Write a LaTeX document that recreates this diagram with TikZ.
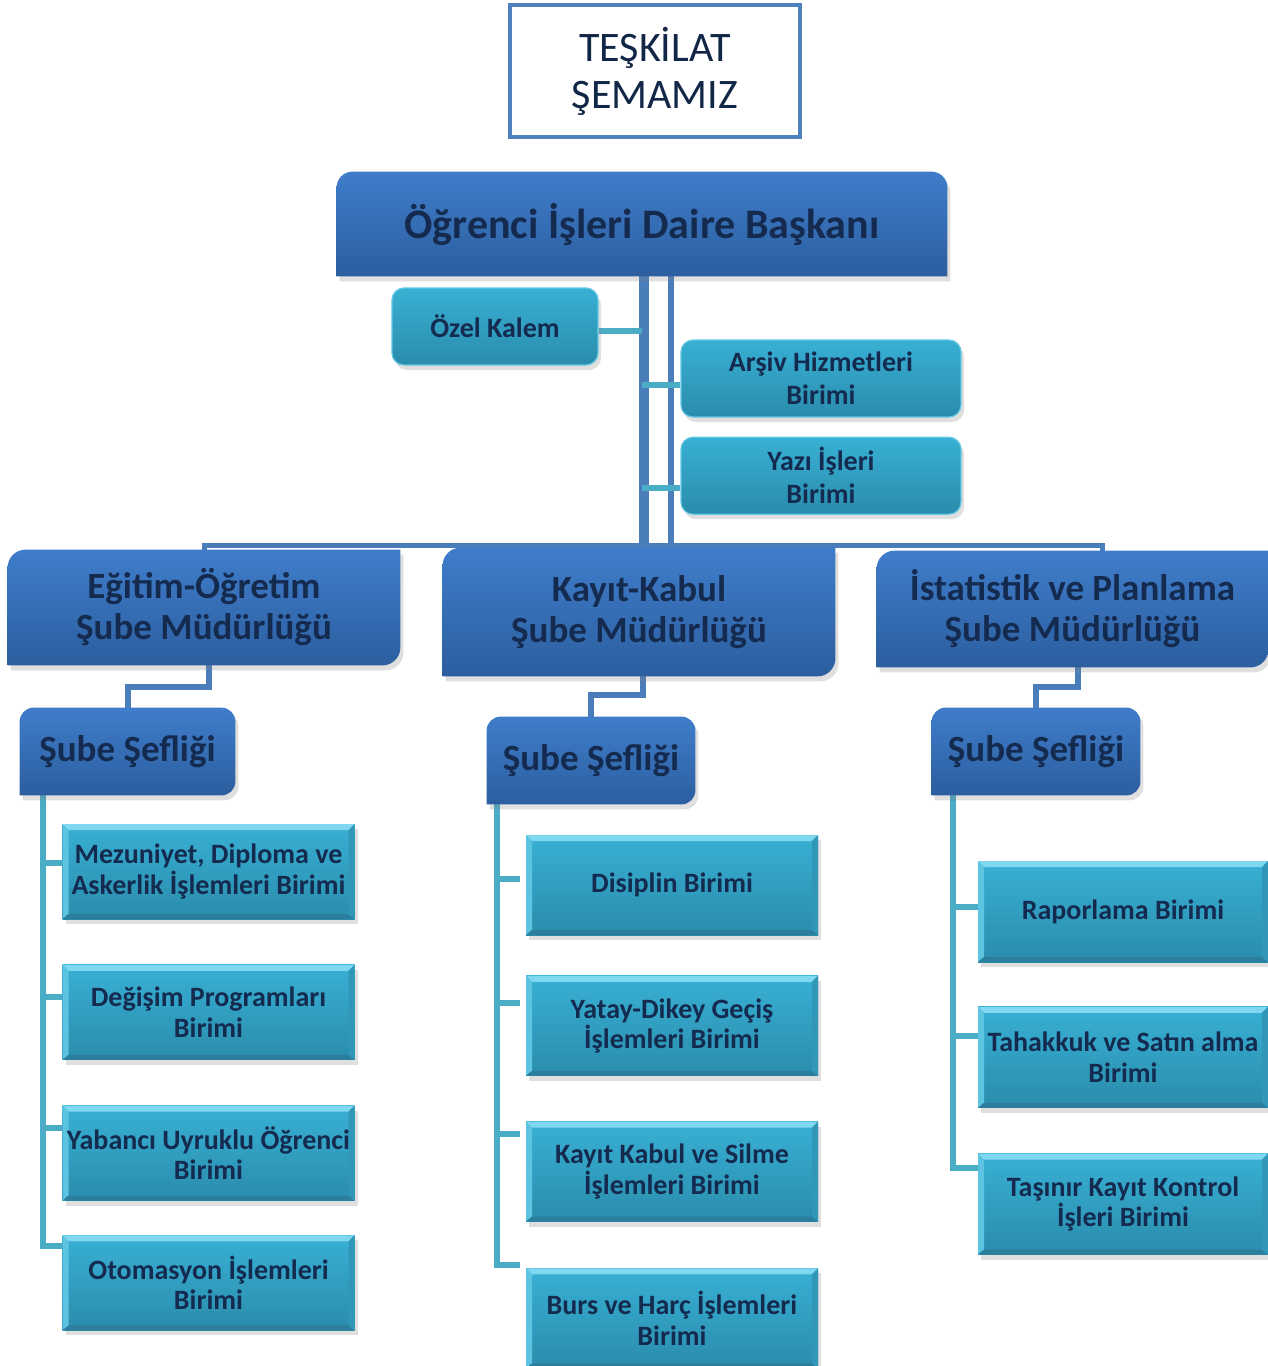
\documentclass[tikz,border=0pt]{standalone}
\usepackage{fontspec}
\setmainfont{Carlito}
\usetikzlibrary{positioning, shadows, backgrounds}

\definecolor{boxblue}{HTML}{3F7DCA}
\definecolor{boxbluedark}{HTML}{2C5E9F}
\definecolor{boxteal}{HTML}{38B0D4}
\definecolor{boxtealdark}{HTML}{2A8CAC}
\definecolor{bevlight}{HTML}{7FD8EF}
\definecolor{bevdark}{HTML}{2B7F9D}
\definecolor{linkblue}{HTML}{4A7EBB}
\definecolor{linkteal}{HTML}{4BACC6}
\definecolor{navytext}{HTML}{142B4F}
\definecolor{framebl}{HTML}{4F81BD}

\tikzset{
  txt/.style={align=center, text=navytext, inner sep=0pt},
  boxshadow/.style={drop shadow={opacity=0.25, shadow xshift=1.5pt, shadow yshift=-2.5pt}},
  blueshade/.style={top color=boxblue, bottom color=boxbluedark, boxshadow},
  titlebox/.style={txt, draw=framebl, line width=2pt, fill=white, minimum width=145pt, minimum height=66pt,
    text=navytext!90!black, font=\fontsize{21}{23.5}\selectfont},
  topbox/.style={txt, minimum width=305pt, minimum height=52pt, font=\fontsize{21}{24}\selectfont\bfseries},
  mud/.style={txt, minimum width=196pt, minimum height=58pt, font=\fontsize{18.5}{20.5}\selectfont\bfseries},
  sef/.style={txt, minimum width=104pt, minimum height=43.5pt, font=\fontsize{18.5}{20.5}\selectfont\bfseries},
  small/.style={txt, minimum width=140pt, minimum height=38.5pt, rounded corners=6pt,
    top color=boxteal, bottom color=boxtealdark, draw=bevlight!60!boxteal, line width=0.6pt, boxshadow,
    font=\fontsize{14}{16.5}\selectfont\bfseries},
  unit/.style={txt, minimum width=146pt, minimum height=50pt, top color=boxteal, bottom color=boxtealdark, boxshadow,
    font=\fontsize{14}{15.2}\selectfont\bfseries,
    path picture={
      \coordinate (bvnw) at (path picture bounding box.north west);
      \coordinate (bvne) at (path picture bounding box.north east);
      \coordinate (bvsw) at (path picture bounding box.south west);
      \coordinate (bvse) at (path picture bounding box.south east);
      \fill[bevlight] (bvnw) -- (bvne) -- ([shift={(-3pt,-3pt)}]bvne) -- ([shift={(3pt,-3pt)}]bvnw) -- cycle;
      \fill[bevlight!50!boxteal] (bvnw) -- ([shift={(3pt,-3pt)}]bvnw) -- ([shift={(3pt,2.5pt)}]bvsw) -- (bvsw) -- cycle;
      \fill[bevdark] (bvsw) -- ([shift={(3pt,2.5pt)}]bvsw) -- ([shift={(-3pt,2.5pt)}]bvse) -- (bvse) -- cycle;
      \fill[bevdark!50!boxteal] (bvne) -- (bvse) -- ([shift={(-3pt,2.5pt)}]bvse) -- ([shift={(-3pt,-3pt)}]bvne) -- cycle;
    }},
  blueline/.style={linkblue, line width=3pt},
  tealline/.style={linkteal, line width=3pt}
}

\begin{document}
\begin{tikzpicture}[x=0.5pt, y=-0.5pt]
  \useasboundingbox (0,0) rectangle (1268,1366);

  \node[titlebox] (teskilat) at (655,71) {TEŞKİLAT\\ŞEMAMIZ};
  \node[topbox] (daire) at (642,224) {Öğrenci İşleri Daire Başkanı};
  \node[small, minimum width=103pt] (ozel) at (495,326.5) {Özel Kalem};
  \node[small] (arsiv) at (821,378.5) {Arşiv Hizmetleri\\Birimi};
  \node[small, below=9.5pt of arsiv] (yazi) {Yazı İşleri\\Birimi};

  \node[mud, minimum height=57.5pt] (egitim) at (204,607.5) {Eğitim-Öğretim\\Şube Müdürlüğü};
  \node[mud, minimum height=64pt] (kayit) at (639,612) {Kayıt-Kabul\\Şube Müdürlüğü};
  \node[mud, minimum width=195.5pt] (istat) at (1072.5,609) {İstatistik ve Planlama\\Şube Müdürlüğü};

  \node[sef, minimum width=107.5pt] (sefL) at (127.5,751.5) {Şube Şefliği};
  \node[sef] (sefM) at (591,760.5) {Şube Şefliği};
  \node[sef] (sefR) at (1036,751.5) {Şube Şefliği};

  %% Egitim-Ogretim
  \node[unit, minimum height=47.5pt] (mezun) at (208.5,871.5) {Mezuniyet, Diploma ve\\Askerlik İşlemleri Birimi};
  \node[unit, minimum height=47.5pt, below=22.5pt of mezun] (degisim) {Değişim Programları\\Birimi};
  \node[unit, minimum height=47.5pt, below=22.5pt of degisim] (yabanci) {Yabancı Uyruklu Öğrenci\\Birimi};
  \node[unit, minimum height=47.5pt, below=17pt of yabanci] (otomasyon) {Otomasyon İşlemleri\\Birimi};

  %% Kayit-Kabul
  \node[unit] (disiplin) at (672,885) {Disiplin Birimi};
  \node[unit, below=20pt of disiplin] (yatay) {Yatay-Dikey Geçiş\\İşlemleri Birimi};
  \node[unit, below=22.5pt of yatay] (silme) {Kayıt Kabul ve Silme\\İşlemleri Birimi};
  \node[unit, below=23pt of silme] (burs) {Burs ve Harç İşlemleri\\Birimi};

  %% Istatistik
  \node[unit, minimum width=145pt, minimum height=50.5pt] (rapor) at (1123,911.5) {Raporlama Birimi};
  \node[unit, minimum width=145pt, minimum height=50.5pt, below=22pt of rapor] (tahakkuk) {Tahakkuk ve Satın alma\\Birimi};
  \node[unit, minimum width=145pt, minimum height=50.5pt, below=22.5pt of tahakkuk] (tasinir) {Taşınır Kayıt Kontrol\\İşleri Birimi};

  \begin{scope}[on background layer]
    % connectors
    \draw[linkblue, line width=5pt] ([xshift=1pt]daire.south) -- ([xshift=1pt]daire.south |- kayit.north);
    \draw[linkblue, line width=3pt] ([xshift=14.5pt]daire.south) -- ([xshift=14.5pt]daire.south |- kayit.north);
    \draw[tealline] ([yshift=-2pt]ozel.east) -- ([yshift=-2pt]ozel.east -| daire.south);
    \draw[tealline] ([yshift=-3pt]arsiv.west) -- ([yshift=-3pt]arsiv.west -| daire.south);
    \draw[tealline] ([yshift=-6pt]yazi.west) -- ([yshift=-6pt]yazi.west -| daire.south);

    \coordinate (bus) at (642,545);
    \draw[linkblue, line width=2.5pt] (egitim.north) |- (bus) -| ([xshift=15pt]istat.north);

    \draw[blueline] ([xshift=2.5pt]egitim.south) -- ++(0,-11pt) -| (sefL.north);
    \draw[blueline] ([xshift=2pt]kayit.south) -- ++(0,-9.5pt) -| (sefM.north);
    \draw[blueline] ([xshift=2.75pt]istat.south) -- ++(0,-10pt) -| (sefR.north);

    \draw[tealline] ([xshift=11.5pt]sefL.south west) |- ([yshift=4.25pt]mezun.west);
    \draw[tealline] ([xshift=11.5pt]sefL.south west) |- ([yshift=7.75pt]degisim.west);
    \draw[tealline] ([xshift=11.5pt]sefL.south west) |- ([yshift=12.5pt]yabanci.west);
    \draw[tealline] ([xshift=11.5pt]sefL.south west) |- ([yshift=18.5pt]otomasyon.west);

    \draw[tealline] ([xshift=5pt]sefM.south west) |- ([xshift=-3pt, yshift=3pt]disiplin.west);
    \draw[tealline] ([xshift=5pt]sefM.south west) |- ([xshift=-3pt, yshift=11.5pt]yatay.west);
    \draw[tealline] ([xshift=5pt]sefM.south west) |- ([xshift=-3pt, yshift=18.75pt]silme.west);
    \draw[tealline] ([xshift=5pt]sefM.south west) |- ([xshift=-3pt, yshift=26.75pt]burs.west);

    \draw[tealline] ([xshift=10.5pt]sefR.south west) |- ([yshift=2.25pt]rapor.west);
    \draw[tealline] ([xshift=10.5pt]sefR.south west) |- ([yshift=10.5pt]tahakkuk.west);
    \draw[tealline] ([xshift=10.5pt]sefR.south west) |- ([yshift=18pt]tasinir.west);

    % box shapes under the texts
    \shade[blueshade] (daire.south west) [rounded corners=8pt] -- (daire.north west) -- (daire.north east) [sharp corners] -- (daire.south east) -- cycle;
    \shade[blueshade] (egitim.west) [rounded corners=9pt] -- (egitim.north west) [sharp corners] -- (egitim.north east) [rounded corners=9pt] -- (egitim.south east) [sharp corners] -- (egitim.south west) -- cycle;
    \shade[blueshade] (kayit.west) [rounded corners=9pt] -- (kayit.north west) [sharp corners] -- (kayit.north east) [rounded corners=9pt] -- (kayit.south east) [sharp corners] -- (kayit.south west) -- cycle;
    \shade[blueshade] (istat.west) [rounded corners=9pt] -- (istat.north west) [sharp corners] -- (istat.north east) [rounded corners=9pt] -- (istat.south east) [sharp corners] -- (istat.south west) -- cycle;
    \shade[blueshade] (sefL.west) [rounded corners=7pt] -- (sefL.north west) -- (sefL.north east) -- (sefL.south east) [sharp corners] -- (sefL.south west) -- cycle;
    \shade[blueshade] (sefM.west) [rounded corners=7pt] -- (sefM.north west) -- (sefM.north east) -- (sefM.south east) [sharp corners] -- (sefM.south west) -- cycle;
    \shade[blueshade] (sefR.west) [rounded corners=7pt] -- (sefR.north west) -- (sefR.north east) -- (sefR.south east) [sharp corners] -- (sefR.south west) -- cycle;
  \end{scope}
\end{tikzpicture}
\end{document}
